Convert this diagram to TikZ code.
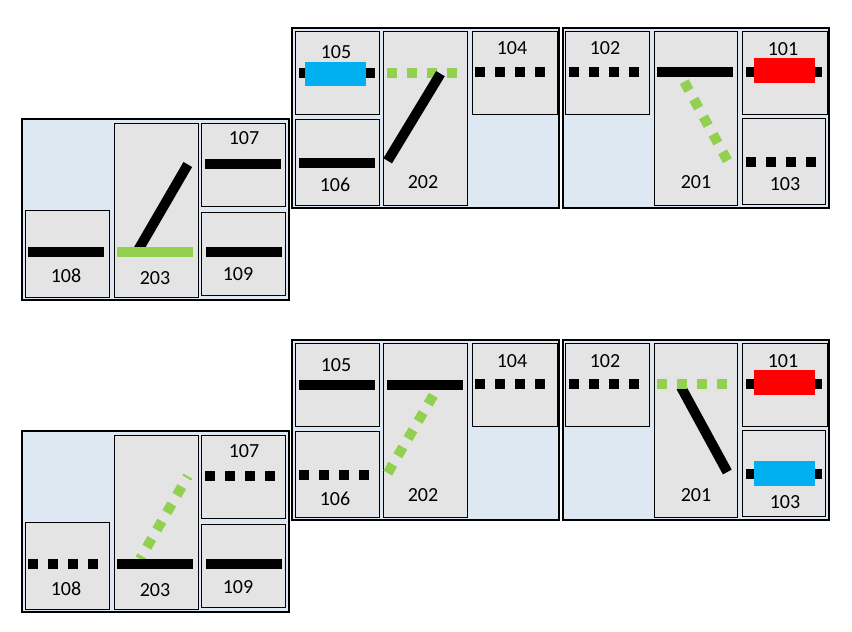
\documentclass[tikz,border=0pt]{standalone}
\usepackage{fontspec}
\setmainfont{Carlito}
\definecolor{panelblue}{HTML}{DEE8F3}
\definecolor{baygray}{HTML}{E4E4E4}
\definecolor{trackgreen}{HTML}{92D050}
\definecolor{blockblue}{HTML}{00B0F0}
\tikzset{
 panel/.style={draw=black,line width=2pt,fill=panelblue},
 bay/.style={draw=black,line width=0.9pt,fill=baygray},
 track/.style={line width=10pt,black},
 dots/.style={track,dash pattern=on 10pt off 10pt},
 greentrack/.style={track,trackgreen},
 greendots/.style={dots,trackgreen},
 bluebox/.style={fill=blockblue},
 redbox/.style={fill=red},
 num/.style={inner sep=0pt,font=\fontsize{20}{20}\selectfont}
}
\begin{document}
\begin{tikzpicture}[x=1pt,y=-1pt]
 \useasboundingbox (0,0) rectangle (852,632);
 \fill[white] (0,0) rectangle (852,632);
 \draw[panel] (22,119) rectangle (289,300);
 \draw[panel] (292,27.5) rectangle (559,208);
 \draw[panel] (563,27.5) rectangle (829,208);
 \draw[bay] (295.3,31.3) rectangle (379.7,114.7);
 \draw[bay] (295.3,119.3) rectangle (379.7,205.7);
 \draw[bay] (383.3,31.3) rectangle (467.7,205.7);
 \draw[bay] (472.3,31.3) rectangle (557,114.7);
 \draw[bay] (565.3,31.3) rectangle (649.7,114.7);
 \draw[bay] (654.3,31.3) rectangle (737.7,205.7);
 \draw[bay] (742.3,31.3) rectangle (827,114.7);
 \draw[bay] (742.3,118.3) rectangle (825.7,204.7);
 \draw[bay] (25.3,210.3) rectangle (109.7,297.3);
 \draw[bay] (114.3,123.3) rectangle (198.7,297.3);
 \draw[bay] (201.3,123.3) rectangle (285.7,206.7);
 \draw[bay] (201.3,212.3) rectangle (285.7,295.3);
 \draw[track] (299,73) -- (375.3,73);
 \fill[bluebox] (305,62) rectangle (366,86);
 \draw[track] (299,163) -- (375.3,163);
 \draw[greendots] (387,73) -- (457,73);
 \draw[track] (387.7,160.8) -- (440.5,73.7);
 \draw[dots] (475,72) -- (545,72);
 \draw[dots] (569,72) -- (639,72);
 \draw[track] (657,72) -- (733.3,72);
 \draw[greendots] (684.2,81.7) -- (727.5,160.7);
 \draw[track] (746,72) -- (822.3,72);
 \fill[redbox] (754,58) rectangle (815,83);
 \draw[dots] (746,162) -- (816,162);
 \draw[track] (28,252) -- (104.3,252);
 \draw[track] (137,252) -- (187.8,164.5);
 \draw[greentrack] (117,252) -- (193.3,252);
 \draw[track] (205,164) -- (281.3,164);
 \draw[track] (206,252) -- (282,252);
 \node[num] (n105a) at (336,51.7) {105};
 \node[num] (n106a) at (335,185) {106};
 \node[num] (n202a) at (423,182) {202};
 \node[num] (n104a) at (512,48) {104};
 \node[num] (n102a) at (605,48) {102};
 \node[num] (n201a) at (696,182) {201};
 \node[num] (n101a) at (783,49) {101};
 \node[num] (n103a) at (785,184) {103};
 \node[num] (n107a) at (244,138) {107};
 \node[num] (n108a) at (66,276) {108};
 \node[num] (n203a) at (155,278) {203};
 \node[num] (n109a) at (238,274) {109};
 \draw[panel] (22,431) rectangle (289,611.5);
 \draw[panel] (292,339.5) rectangle (559,520);
 \draw[panel] (563,339.5) rectangle (829,520);
 \draw[bay] (295.3,343.3) rectangle (379.7,426.7);
 \draw[bay] (295.3,431.3) rectangle (379.7,517.7);
 \draw[bay] (383.3,343.3) rectangle (467.7,517.7);
 \draw[bay] (472.3,343.3) rectangle (557,426.7);
 \draw[bay] (565.3,343.3) rectangle (649.7,426.7);
 \draw[bay] (654.3,343.3) rectangle (737.7,517.7);
 \draw[bay] (742.3,343.3) rectangle (827,426.7);
 \draw[bay] (742.3,430.3) rectangle (825.7,516.7);
 \draw[bay] (25.3,522.3) rectangle (109.7,609.3);
 \draw[bay] (114.3,435.3) rectangle (198.7,609.3);
 \draw[bay] (201.3,435.3) rectangle (285.7,518.7);
 \draw[bay] (201.3,524.3) rectangle (285.7,607.3);
 \draw[track] (299,385) -- (375.3,385);
 \draw[dots] (299,475) -- (369,475);
 \draw[track] (387,385) -- (463.3,385);
 \draw[greendots] (433.3,395.4) -- (387.7,473);
 \draw[dots] (475,384) -- (545,384);
 \draw[dots] (569,384) -- (639,384);
 \draw[track] (681,387) -- (727.3,472);
 \draw[greendots] (657,384) -- (727,384);
 \draw[track] (746,384) -- (822.3,384);
 \fill[redbox] (754,370) rectangle (815,395);
 \draw[track] (746,474) -- (822.3,474);
 \fill[bluebox] (754,461) rectangle (815,486);
 \draw[dots] (28,564) -- (98,564);
 \draw[greendots,dash phase=6.4pt] (140,559) -- (187.8,476.2);
 \draw[track] (117,564) -- (193.3,564);
 \draw[dots] (205,476) -- (275,476);
 \draw[track] (206,564) -- (282,564);
 \node[num] (n105b) at (336,364.7) {105};
 \node[num] (n106b) at (335,498.7) {106};
 \node[num] (n202b) at (423,495) {202};
 \node[num] (n104b) at (512,361) {104};
 \node[num] (n102b) at (605,361) {102};
 \node[num] (n201b) at (696,495) {201};
 \node[num] (n101b) at (783,361) {101};
 \node[num] (n103b) at (785,502) {103};
 \node[num] (n107b) at (244,451) {107};
 \node[num] (n108b) at (66,589) {108};
 \node[num] (n203b) at (155,590.5) {203};
 \node[num] (n109b) at (238,587) {109};
\end{tikzpicture}
\end{document}
